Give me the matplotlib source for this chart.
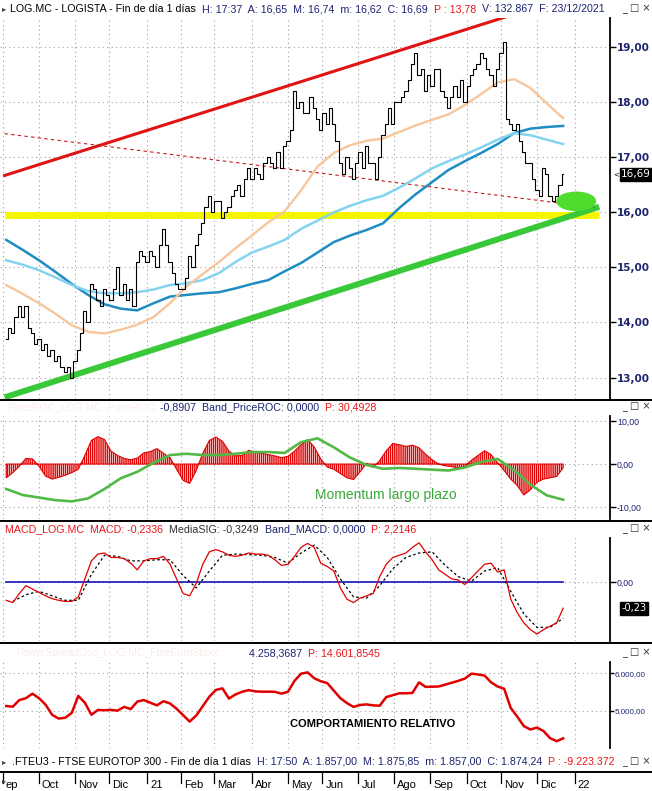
import numpy as np
import pandas as pd
import matplotlib
matplotlib.use('Agg')
import matplotlib.pyplot as plt
from matplotlib.patches import Ellipse

W, H = 652, 791

# business-day calendar used for the x axis
dates = pd.bdate_range('2020-09-01', '2022-01-31')
start = dates.get_loc(pd.Timestamp('2020-09-03'))

# LOG.MC closes, every 2nd session from 3 Sep 2020 to 23 Dec 2021
close = [13.7, 13.9, 13.8, 14.1, 14.3, 14.1, 14.3, 13.9, 13.8, 13.6,
         13.7, 13.5, 13.6, 13.4, 13.5, 13.3, 13.4, 13.2, 13.1, 13.2,
         13.0, 13.3, 13.5, 13.8, 14.2, 14.0, 14.7, 14.6, 14.4, 14.3,
         14.6, 14.5, 14.4, 14.6, 15.0, 14.5, 14.7, 14.4, 14.6, 14.3,
         15.1, 15.3, 15.2, 15.1, 15.3, 15.2, 15.0, 15.4, 15.7, 15.4,
         15.1, 14.9, 14.7, 14.6, 14.6, 14.8, 15.2, 15.0, 15.4, 15.6,
         15.8, 16.1, 16.3, 16.0, 16.2, 16.2, 15.9, 16.0, 16.1, 16.3,
         16.4, 16.5, 16.3, 16.6, 16.8, 16.6, 16.8, 16.7, 16.6, 16.9,
         17.0, 16.9, 16.8, 17.1, 16.8, 17.2, 17.3, 17.5, 18.2, 17.9,
         18.0, 17.8, 17.8, 18.1, 17.9, 17.7, 17.5, 17.8, 17.6, 17.9,
         17.6, 17.3, 16.9, 16.7, 17.0, 16.8, 16.6, 16.9, 17.1, 16.8,
         17.2, 16.9, 16.9, 16.6, 17.0, 17.4, 17.6, 17.9, 17.6, 18.0,
         18.0, 18.1, 18.2, 18.4, 18.7, 18.9, 18.5, 18.6, 18.2, 18.5,
         18.3, 18.6, 18.6, 18.2, 18.1, 17.9, 18.1, 18.3, 18.1, 18.4,
         18.0, 18.3, 18.5, 18.6, 18.7, 18.9, 18.8, 18.6, 18.5, 18.3,
         18.6, 18.9, 19.1, 17.7, 17.6, 17.5, 17.6, 17.3, 17.1, 16.9,
         16.9, 16.6, 16.4, 16.3, 16.8, 16.7, 16.3, 16.2, 16.3, 16.5,
         16.69]

# moving averages, every 10th session
ma50 = [14.68, 14.52, 14.35, 14.16, 13.95, 13.83, 13.80, 13.87, 13.96, 14.10,
        14.35, 14.65, 14.88, 15.10, 15.35, 15.58, 15.82, 16.02, 16.40, 16.83,
        17.08, 17.22, 17.30, 17.34, 17.46, 17.58, 17.68, 17.78, 17.95, 18.15,
        18.36, 18.42, 18.26, 17.98, 17.71]
ma100 = [15.13, 15.05, 14.95, 14.82, 14.68, 14.57, 14.53, 14.53, 14.55, 14.60,
         14.68, 14.71, 14.77, 14.90, 15.10, 15.27, 15.38, 15.50, 15.70, 15.85,
         16.00, 16.12, 16.22, 16.30, 16.45, 16.62, 16.80, 16.93, 17.05, 17.18,
         17.32, 17.44, 17.40, 17.32, 17.24]
ma200 = [15.50, 15.32, 15.13, 14.92, 14.70, 14.50, 14.33, 14.25, 14.22, 14.35,
         14.47, 14.50, 14.53, 14.55, 14.62, 14.70, 14.77, 14.93, 15.08, 15.27,
         15.46, 15.58, 15.68, 15.80, 16.08, 16.33, 16.55, 16.77, 16.93, 17.08,
         17.24, 17.44, 17.52, 17.55, 17.57]

# hand drawn lines: (dates, values)
trend_top = (['2020-09-02', '2021-12-23'], [16.67, 19.88])
trend_mid = (['2020-09-02', '2022-01-19'], [17.43, 16.09])
trend_low = (['2020-09-02', '2022-01-24'], [12.64, 16.10])
support = (['2020-09-02', '2022-01-24'], [15.96, 15.96])
marker_day, marker_price = '2022-01-04', 16.20

# PriceROC histogram, every 4th session
roc = [-3.2, -2.0, -0.5, 1.3, 1.2, -0.5, -2.8, -3.5, -3.1, -2.6,
       -2.0, -1.2, 2.0, 5.5, 6.4, 5.7, 3.0, 2.0, 1.3, 1.0,
       1.4, 2.6, 2.9, 3.6, 2.5, 1.5, -1.2, -3.8, -4.5, -1.5,
       2.5, 5.5, 6.3, 5.3, 3.0, 1.9, 2.0, 3.2, 2.8, 2.5,
       2.2, 1.9, 1.5, 1.8, 3.0, 4.5, 5.7, 4.0, 1.2, -0.7,
       -1.2, -2.2, -3.2, -3.6, -1.8, 0.2, -0.8, 0.8, 3.1, 4.8,
       4.5, 4.1, 4.4, 3.8, 2.3, 1.0, 0.0, -0.4, -0.6, -0.9,
       -0.5, 0.9, 2.0, 3.1, 2.2, 0.3, -1.5, -3.5, -5.0, -7.2,
       -6.0, -4.2, -3.5, -3.2, -2.9, -0.9]
# long term momentum, every 10th session
momentum = [-5.8, -7.2, -7.8, -8.4, -8.7, -8.0, -5.8, -3.3, -1.8, 0.3,
            2.1, 2.4, 2.1, 2.1, 2.4, 2.8, 2.8, 2.6, 5.1, 6.0,
            3.9, 1.5, -0.2, -1.1, -0.9, -1.1, -1.3, -1.5, -0.8, 0.5,
            1.2, -1.4, -4.8, -7.3, -8.3]

# MACD every 4th session, signal every 8th session (from the 5th)
macd = [-0.16, -0.18, -0.10, -0.03, -0.06, -0.09, -0.12, -0.145, -0.16, -0.17,
        -0.17, -0.13, 0.03, 0.19, 0.25, 0.26, 0.22, 0.22, 0.21, 0.17,
        0.11, 0.19, 0.21, 0.21, 0.23, 0.16, 0.03, -0.10, -0.12, -0.01,
        0.16, 0.27, 0.29, 0.27, 0.24, 0.23, 0.24, 0.26, 0.25, 0.25,
        0.24, 0.20, 0.15, 0.16, 0.23, 0.31, 0.345, 0.31, 0.17, 0.14,
        0.10, -0.05, -0.15, -0.18, -0.14, -0.12, -0.10, 0.05, 0.16, 0.22,
        0.24, 0.26, 0.31, 0.35, 0.27, 0.20, 0.11, 0.07, 0.03, 0.02,
        -0.02, 0.04, 0.10, 0.16, 0.17, 0.09, 0.11, -0.15, -0.27, -0.36,
        -0.42, -0.46, -0.42, -0.39, -0.36, -0.23]
signal = [-0.17, -0.11, -0.08, -0.12, -0.16, -0.16, 0.07, 0.24, 0.23, 0.19,
          0.19, 0.20, 0.20, 0.06, -0.05, 0.10, 0.24, 0.25, 0.245, 0.24,
          0.22, 0.17, 0.26, 0.33, 0.22, 0.03, -0.13, -0.14, -0.03, 0.12,
          0.22, 0.26, 0.27, 0.15, 0.05, 0.01, 0.10, 0.13, -0.08, -0.28,
          -0.40, -0.40, -0.32]

# relative strength vs FTSE Eurotop 300, every 4th session
rel_strength = [5133, 5115, 5290, 5340, 5460, 5340, 5170, 4900, 4800, 4820,
                4950, 5400, 5220, 4900, 5030, 5020, 5030, 5010, 5110, 5050,
                5250, 5290, 5220, 5150, 5260, 5200, 5060, 4890, 4720, 4880,
                5130, 5380, 5560, 5600, 5330, 5440, 5510, 5555, 5520, 5513,
                5513, 5510, 5460, 5510, 5800, 5990, 6025, 5870, 5790, 5740,
                5540, 5340, 5210, 5110, 5160, 5175, 5150, 5140, 5370, 5420,
                5470, 5470, 5480, 5760, 5640, 5645, 5650, 5700, 5750, 5800,
                5860, 5990, 5970, 5940, 5760, 5650, 5590, 5080, 4850, 4600,
                4510, 4560, 4470, 4280, 4200, 4275]

month_labels = ['ep', 'Oct', 'Nov', 'Dic', '21', 'Feb', 'Mar', 'Abr', 'May',
                'Jun', 'Jul', 'Ago', 'Sep', 'Oct', 'Nov', 'Dic', '22']
price_ticks = [13, 14, 15, 16, 17, 18, 19]
roc_ticks = [10, 0, -10]
macd_ticks = [0]
rs_ticks = [6000, 5000]

NAVY = '#1c2470'
RED = '#e8161b'
SANS = ['Liberation Sans', 'DejaVu Sans']


def pos(d):
    return dates.get_loc(pd.Timestamp(d))


def es(v, thousands=False):
    s = f'{v:,.2f}' if thousands else f'{v:.2f}'
    return s.replace(',', '#').replace('.', ',').replace('#', '.')


x_close = start + 2 * np.arange(len(close))
x_ma = start + 10 * np.arange(len(ma50))
x4 = start + 4 * np.arange(len(roc))
x_sig = start + 4 + 8 * np.arange(len(signal))

month_pos = [i for i in range(1, len(dates)) if dates[i].month != dates[i - 1].month]
month_pos = [0] + month_pos[:len(month_labels) - 1]

XMIN, XMAX = -1.8, 370.6

fig = plt.figure(figsize=(W / 100, H / 100), dpi=100)
fig.patch.set_facecolor('white')


def panel(top, bottom, ylim):
    ax = fig.add_axes([0, 1 - bottom / H, 610 / W, (bottom - top) / H])
    ax.set_xlim(XMIN, XMAX)
    ax.set_ylim(*ylim)
    for s in ['top', 'left', 'bottom']:
        ax.spines[s].set_visible(False)
    ax.spines['right'].set_linewidth(1.3)
    ax.yaxis.tick_right()
    ax.tick_params(axis='y', length=4, width=1, pad=1, direction='out')
    ax.set_xticks(month_pos)
    ax.tick_params(axis='x', length=0, labelbottom=False)
    ax.grid(True, color='#a0a0a0', linestyle=(0, (1, 3)), linewidth=0.8)
    ax.set_axisbelow(True)
    return ax


# ---- price panel ----
ax = panel(18, 399, (12.61, 19.53))
ax.plot([pos(d) for d in support[0]], support[1], color='#f5f500', lw=5, solid_capstyle='butt')
ax.plot([pos(d) for d in trend_low[0]], trend_low[1], color='#38c838', lw=4.3, solid_capstyle='butt')
ax.plot([pos(d) for d in trend_top[0]], trend_top[1], color='#e01414', lw=2.2)
ax.plot([pos(d) for d in trend_mid[0]], trend_mid[1], color='#c8141e', lw=0.8, dashes=(3, 3))
ax.plot(x_ma, ma200, color='#1f8cc2', lw=1.8)
ax.plot(x_ma, ma100, color='#84d4f0', lw=1.8)
ax.plot(x_ma, ma50, color='#f6c69c', lw=1.7)
ax.plot(x_close, close, color='black', lw=0.8, drawstyle='steps-mid')
ax.add_patch(Ellipse((pos(marker_day), marker_price), 23.5, 0.33, color='#4fdc2c', zorder=5))
ax.set_yticks(price_ticks)
ax.set_yticklabels([es(v) for v in price_ticks], color=NAVY, fontweight='bold', fontsize=7.5)
ax.annotate(es(close[-1]), xy=(1, close[-1]), xycoords=('axes fraction', 'data'),
            xytext=(8, 0), textcoords='offset points', va='center', ha='left',
            color='white', fontsize=7.5, annotation_clip=False,
            bbox=dict(boxstyle='square,pad=0.15', fc='black', ec='black'))
ax.annotate('<', xy=(1, close[-1]), xycoords=('axes fraction', 'data'),
            xytext=(2, 0), textcoords='offset points', va='center', ha='left',
            fontsize=5, annotation_clip=False)

# ---- PriceROC panel ----
ax2 = panel(416, 519, (-12.8, 11.2))
ax2.fill_between(x4, 0, roc, facecolor='white', edgecolor='#e00000', hatch='||||||||', lw=0.8)
ax2.plot(x_ma, momentum, color='#52b947', lw=1.9)
ax2.set_yticks(roc_ticks)
ax2.set_yticklabels([es(v) for v in roc_ticks], color=NAVY, fontsize=6.3, family=SANS)
ax2.text(315 / 610, 0.235, 'Momentum largo plazo', transform=ax2.transAxes, va='center',
         color='#3aa83a', fontsize=10, family=SANS)

# ---- MACD panel ----
ax3 = panel(538, 641, (-0.521, 0.393))
ax3.plot([x4[0], x4[-1]], [0, 0], color='#0000b4', lw=1.1)
ax3.plot(x_sig, signal, color='black', lw=0.9, dashes=(2, 2))
ax3.plot(x4, macd, color='#e00000', lw=0.9)
ax3.set_yticks(macd_ticks)
ax3.set_yticklabels([es(v) for v in macd_ticks], color=NAVY, fontsize=6.3, family=SANS)
ax3.annotate(es(macd[-1]), xy=(1, macd[-1]), xycoords=('axes fraction', 'data'),
             xytext=(8, 0), textcoords='offset points', va='center', ha='left',
             color='white', fontsize=7, annotation_clip=False,
             bbox=dict(boxstyle='square,pad=0.15', fc='black', ec='black'))

# ---- relative strength panel ----
ax4 = panel(662, 748, (4019, 6300))
ax4.plot(x4, rel_strength, color='#e00000', lw=1.8)
ax4.set_yticks(rs_ticks)
ax4.set_yticklabels([es(v, True) for v in rs_ticks], color=NAVY, fontsize=5.8, family=SANS)
ax4.tick_params(axis='y', length=3, pad=0.5)
ax4.text(290 / 610, 0.28, 'COMPORTAMIENTO RELATIVO', transform=ax4.transAxes, fontsize=8,
         va='center', fontweight='bold', fontstretch='condensed',
         family=['Liberation Sans Narrow', 'Liberation Sans', 'DejaVu Sans'])

# ---- date axis ----
axd = fig.add_axes([0, 0, 610 / W, 20 / H])
axd.set_xlim(XMIN, XMAX)
axd.set_ylim(0, 1)
axd.axis('off')
for p, lab in zip(month_pos, month_labels):
    axd.plot([p, p], [0.4, 1], color='black', lw=0.9)
    axd.text(p + 1.8, 0.05, lab, fontsize=8, va='bottom', ha='left', family=SANS)

# ---- overlay: headers and separators ----
ov = fig.add_axes([0, 0, 1, 1], zorder=10)
ov.set_xlim(0, W)
ov.set_ylim(H, 0)
ov.axis('off')

for y in [399.5, 520.5, 642.5, 771.5]:
    ov.plot([0, W], [y, y], color='black', lw=1.4)


def header(x, y, parts, size=7.7):
    t = ov.text(x, y, parts[0][0], color=parts[0][1], fontsize=size, va='center', ha='left',
                family=SANS)
    for s, c in parts[1:]:
        t = ov.annotate(s, xy=(1, 0), xycoords=t, va='bottom', ha='left', color=c,
                        fontsize=size, family=SANS)
    return t


def buttons(y):
    ov.text(622, y, '_ \u25a1 \u00d7', fontsize=7, va='center', ha='left', color='#303030')


ov.text(2, 9, '\u25b8', fontsize=6, va='center', color='#404040')
header(10, 9, [('LOG.MC - LOGISTA - Fin de día 1 días  ', 'black'),
               ('H: 17:37  A: 16,65  M: 16,74  m: 16,62  C: 16,69  ', NAVY),
               ('P : 13,78  ', RED), ('V: 132.867  F: 23/12/2021', NAVY)])
buttons(9)

ov.text(8, 407, 'PriceROC_LOG.MC  PriceROC:', fontsize=7.5, va='center', color='#fdeaea',
        family=SANS)
header(160, 407, [('-0,8907  Band_PriceROC: 0,0000  ', NAVY), ('P: 30,4928', RED)])
buttons(407)

header(5, 529, [('MACD_LOG.MC  MACD: -0,2336  ', RED), ('MediaSIG: -0,3249  ', '#303030'),
                ('Band_MACD: 0,0000  ', NAVY), ('P: 2,2146', RED)])
buttons(529)

ov.text(16, 653, 'PowerSpreadOsc_LOG.MC_FtseEuroStoxx:', fontsize=7.5, va='center',
        color='#fdeaea', family=SANS)
header(249, 653, [('4.258,3687  ', NAVY), ('P: 14.601,8545', RED)])
buttons(653)

ov.text(2, 762, '\u25b8', fontsize=6, va='center', color='#404040')
header(12, 762, [('.FTEU3 - FTSE EUROTOP 300 - Fin de día 1 días  ', 'black'),
                 ('H: 17:50  A: 1.857,00  M: 1.875,85  m: 1.857,00  C: 1.874,24  ', NAVY),
                 ('P : -9.223.372', RED)])
buttons(762)
ov.text(2, 781, '\u25b8', fontsize=6, va='center', color='#404040')

fig.savefig('out.png', dpi=100)
